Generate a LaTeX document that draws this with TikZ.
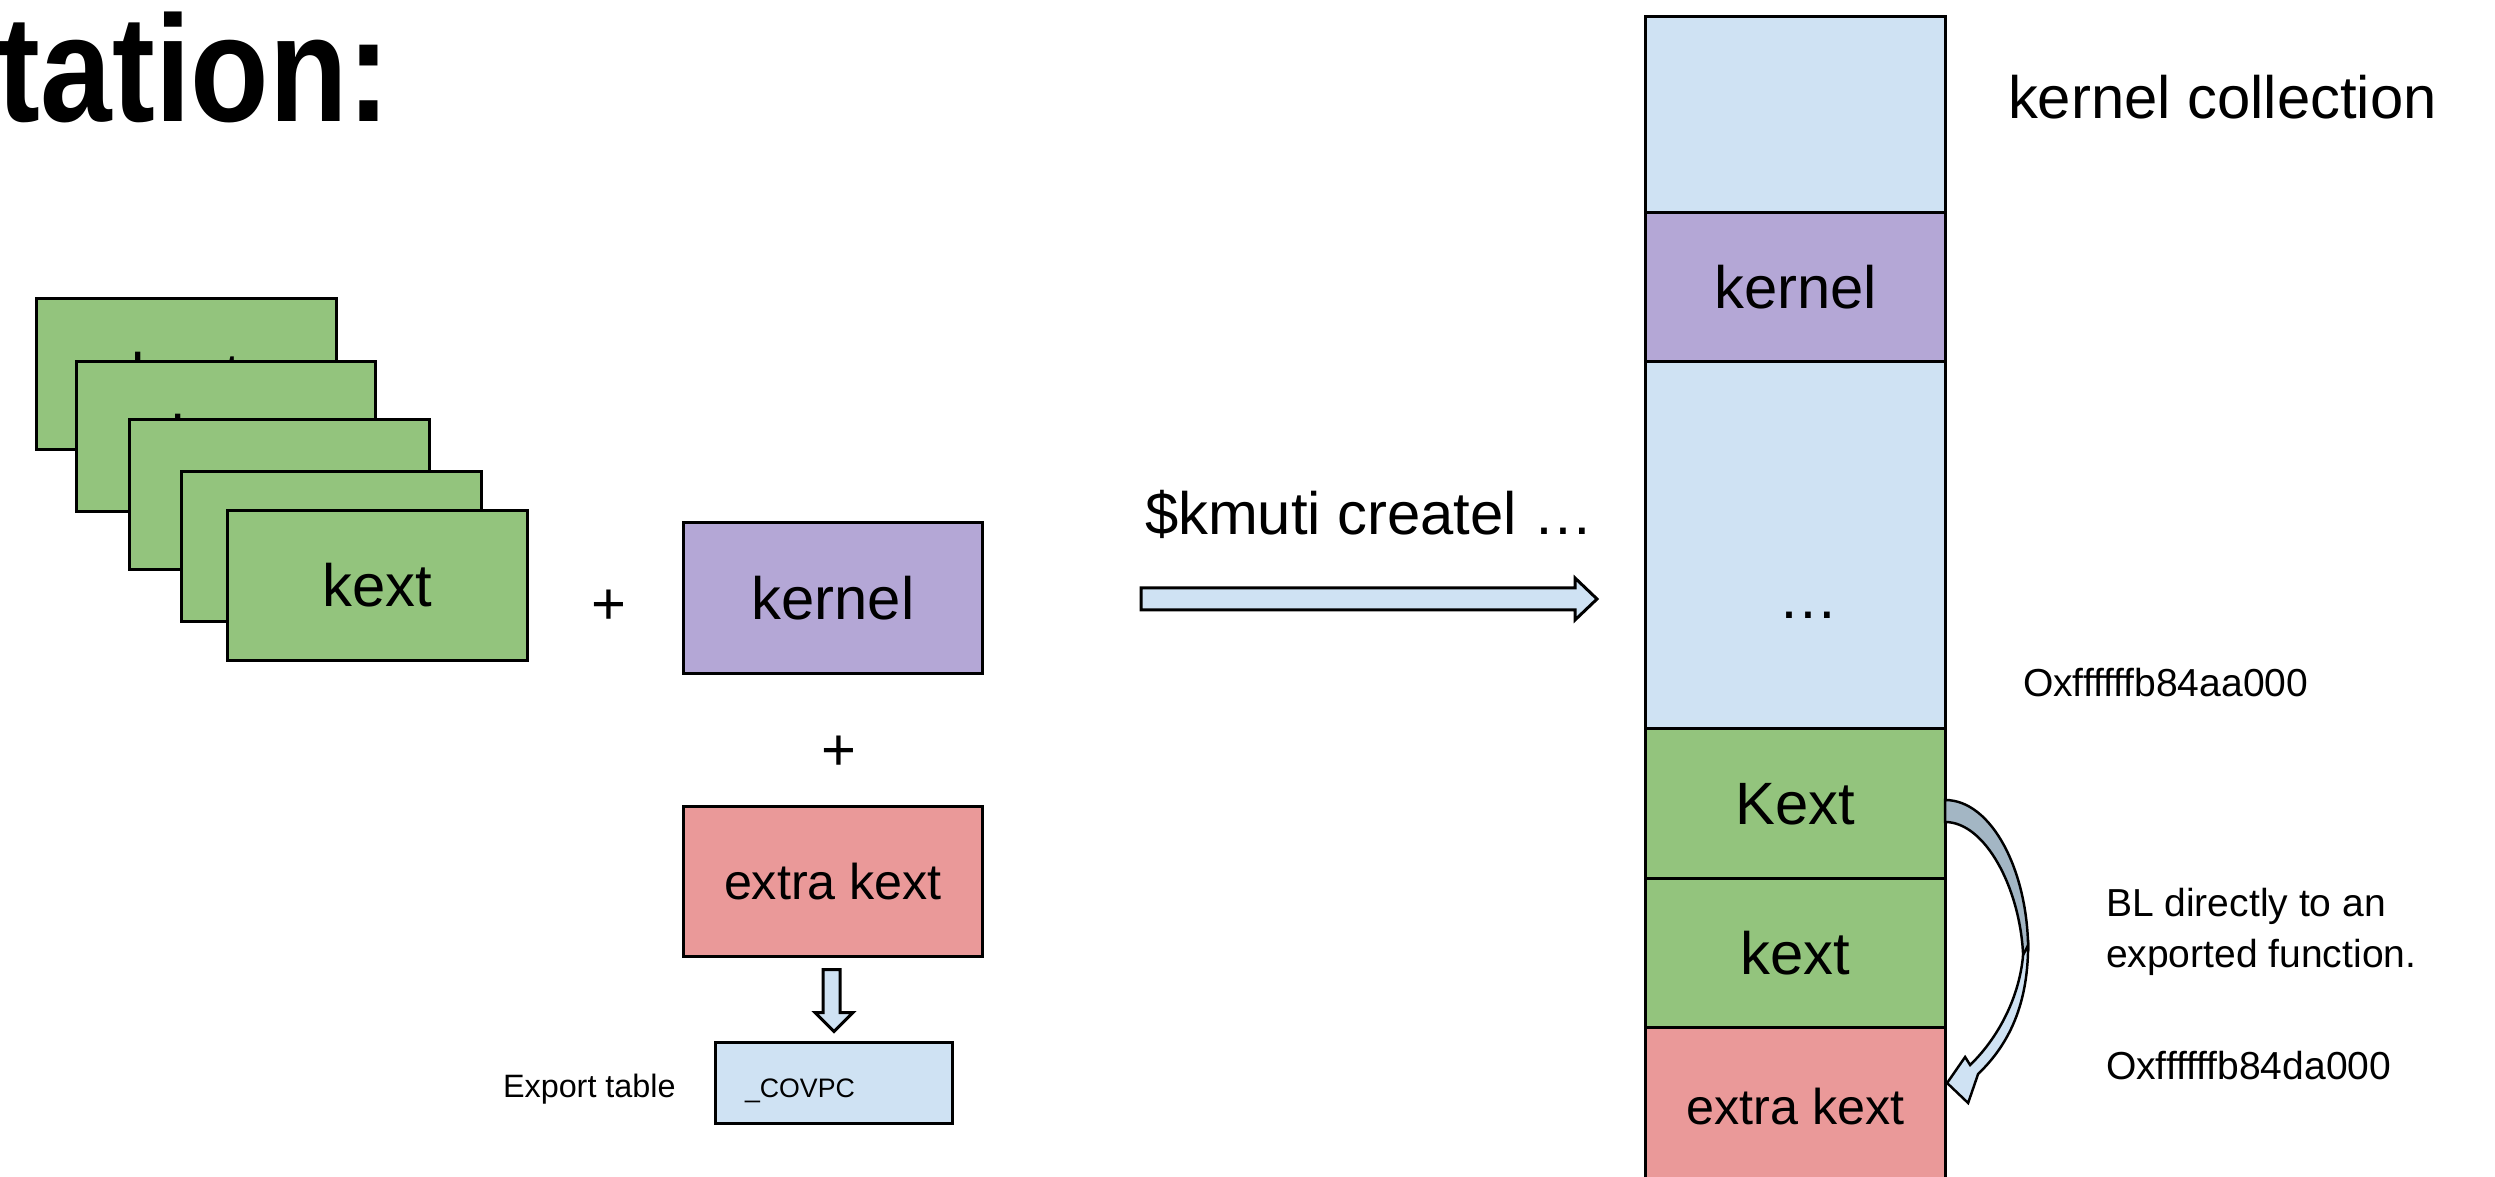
\documentclass[tikz,border=0pt]{standalone}
\usepackage{fontspec}
\setmainfont{Liberation Sans}
\usetikzlibrary{calc}
\definecolor{kgreen}{HTML}{93C47D}
\definecolor{kpurple}{HTML}{B4A7D6}
\definecolor{kred}{HTML}{EA9999}
\definecolor{kblue}{HTML}{CFE2F3}
\definecolor{kslate}{HTML}{A3B6C4}
\newcommand{\fstitle}{\fontsize{43}{43}\selectfont\bfseries}
\newcommand{\fsbig}{\fontsize{17}{20}\selectfont}
\newcommand{\fsxk}{\fontsize{14.3}{17}\selectfont}
\newcommand{\fsmid}{\fontsize{11.1}{14}\selectfont}
\newcommand{\fssmall}{\fontsize{9.2}{11}\selectfont}
\newcommand{\fstiny}{\fontsize{7.6}{9}\selectfont}
\begin{document}
\begin{tikzpicture}[x=0.01cm,y=-0.01cm,
  every node/.style={inner sep=0pt, outer sep=0pt},
  box/.style={draw=black, line width=0.85pt, minimum width=2.99cm, minimum height=1.5cm, font=\fsbig},
  cell/.style={draw=black, line width=0.85pt, minimum width=2.99cm, font=\fsbig},
  blockarrow/.style={draw=black, line width=0.85pt, fill=kblue, line join=miter},
  txt/.style={anchor=base west}]
\useasboundingbox (0,0) rectangle (2495,1177);

% heading
\node[txt, font=\fstitle] (title) at (-2,122) {\scalebox{0.85}[1]{tation:}};

% stack of kernel extensions
\node[box, fill=kgreen] (k1) at (186.5,374) {kext};
\node[box, fill=kgreen] (k2) at (226,436.5) {kext};
\node[box, fill=kgreen] (k3) at (279.5,494.5) {kext};
\node[box, fill=kgreen] (k4) at (331.5,546.5) {kext};
\node[box, fill=kgreen] (k5) at (377.5,585.5) {kext};

\node[font=\fsbig] (plus1) at (609,607) {+};
\node[box, fill=kpurple] (kern) at (833,598) {kernel};
\node[font=\fsbig] (plus2) at (839,753) {+};
\node[box, fill=kred, font=\fsxk] (xk) at (833,881.5) {extra kext};

% export table
\node[txt, font=\fssmall] (explbl) at (503,1097) {Export table};
\node[draw=black, line width=0.85pt, fill=kblue, minimum width=2.36cm, minimum height=0.8cm] (exp) at (834,1083) {};
\node[txt, font=\fstiny] (covpc) at (745,1097) {\_COVPC};
\draw[blockarrow] ($(xk.south)+(-10,13)$) -- ++(17,0) -- ++(0,43) -- ++(13,0)
  -- ++(-19,19) -- ++(-19,-19) -- ++(8,0) -- cycle;

% build step
\node[txt, font=\fsbig] (cmd) at (1145,535) {\$kmuti createl …};
\coordinate (arrL) at (1141,599);
\coordinate (arrR) at (1597,599);
\draw[blockarrow] ($(arrL)+(0,-11)$) -- ($(arrR)+(-22,-11)$) -- ($(arrR)+(-22,-21)$)
  -- (arrR) -- ($(arrR)+(-22,21)$) -- ($(arrR)+(-22,11)$) -- ($(arrL)+(0,11)$) -- cycle;

% kernel collection layout
\node[cell, fill=kblue, minimum height=1.96cm] (c0) at (1795.5,115) {};
\node[cell, fill=kpurple, minimum height=1.49cm] (c1) at (1795.5,287.5) {kernel};
\node[cell, fill=kblue, minimum height=3.67cm] (c2) at (1795.5,545.5) {};
\node[font=\fsbig, anchor=base] (dots) at (1808,619) {…};
\node[cell, fill=kgreen, minimum height=1.5cm] (c3) at (1795.5,804) {Kext};
\node[cell, fill=kgreen, minimum height=1.49cm] (c4) at (1795.5,953.5) {kext};
\node[cell, fill=kred, minimum height=1.57cm, font=\fsxk] (c5) at (1795.5,1106.5) {extra kext};

% branch from a kext into the extra kext
\coordinate (blS) at ($(c3.east)+(0,-4)$);
\coordinate (blT) at ($(c5.east)+(2,-23.5)$);
\draw[line width=0.7pt, fill=kslate]
  (blS) .. controls ($(blS)+(47,0)$) and ($(blS)+(83,72)$) .. ($(blS)+(83,150)$)
  -- ($(blS)+(78,155)$)
  .. controls ($(blS)+(75,88)$) and ($(blS)+(40,22)$) .. ($(blS)+(0,22)$) -- cycle;
\draw[line width=0.7pt, fill=kblue]
  ($(blS)+(83,145)$) .. controls ($(blS)+(83,210)$) and ($(blT)+(58,-35)$) .. ($(blT)+(31,-9)$)
  -- ($(blT)+(21,20)$) -- (blT) -- ($(blT)+(18,-26)$) -- ($(blT)+(23,-18)$)
  .. controls ($(blT)+(49,-43)$) and ($(blS)+(74,200)$) .. ($(blS)+(78,155)$) -- cycle;

\node[txt, font=\fsbig] (kc) at (2008,119) {kernel collection};
\node[txt, font=\fsmid] (addr1) at (2023,697) {Oxffffffb84aa000};
\node[txt, font=\fsmid] (note1) at (2106,916) {BL directly to an};
\node[txt, font=\fsmid] (note2) at (2106,967) {exported function.};
\node[txt, font=\fsmid] (addr2) at (2106,1079) {Oxffffffb84da000};
\end{tikzpicture}
\end{document}
